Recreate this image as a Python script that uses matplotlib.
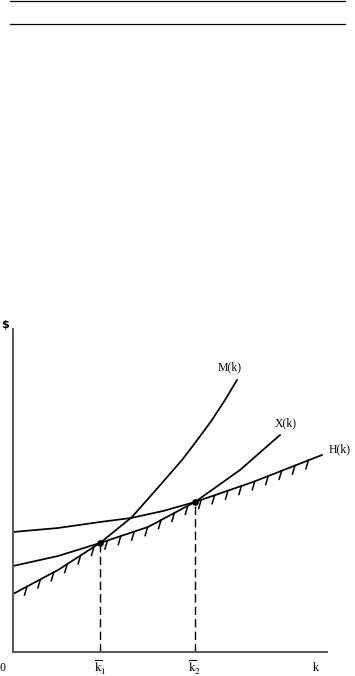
import numpy as np
import matplotlib.pyplot as plt
from matplotlib.lines import Line2D

plt.rcParams["font.family"] = ["Liberation Serif", "DejaVu Serif"]
plt.rcParams["mathtext.fontset"] = "stix"

# curves (k, $)
m_k = [0, 45, 87, 119, 149, 169, 182, 199, 212, 224]
m_v = [58, 82, 109, 135, 169, 192, 209, 232, 252, 272]
x_k = [0, 45, 87, 135, 182, 227, 267]
x_v = [86, 96, 109, 125, 150, 182, 217]
h_k = [0, 45, 87, 118, 150, 182, 240, 309]
h_v = [120, 124, 130, 134, 141, 150, 170, 197]

k_bar = [87, 182]
k_bar_labels = [r"$\overline{\mathrm{k}}_1$", r"$\overline{\mathrm{k}}_2$"]

fig = plt.figure(figsize=(3.55, 6.76), dpi=100)

# header rules at top of page
for y in [675.5 / 676, 652 / 676]:
    fig.add_artist(Line2D([10 / 355, 345 / 355], [y, y], color="black", lw=0.9))

ax = fig.add_axes([13 / 355, 24 / 676, 314 / 355, 323 / 676])
ax.set_xlim(0, 314)
ax.set_ylim(0, 323)
for s in ["top", "right"]:
    ax.spines[s].set_visible(False)
for s in ["left", "bottom"]:
    ax.spines[s].set_color("#555555")
    ax.spines[s].set_linewidth(1.4)
ax.set_xticks([])
ax.set_yticks([])

lw = 1.25
ax.plot(m_k, m_v, color="black", lw=lw)
ax.plot(x_k, x_v, color="black", lw=lw)
ax.plot(h_k, h_v, color="black", lw=lw)

# hatching below the lower envelope min(M, X, H)
tk = np.arange(14, 300, 13.4)
env = np.minimum(np.interp(tk, m_k, m_v, right=np.inf),
                 np.minimum(np.interp(tk, x_k, x_v, right=np.inf),
                            np.interp(tk, h_k, h_v)))
for t, e in zip(tk, env):
    ax.plot([t, t - 2.5], [e, e - 8.5], color="black", lw=1.1)

# equilibria and dashed drop lines
k_val = [np.interp(k, x_k, x_v) for k in k_bar]
for k, v in zip(k_bar, k_val):
    ax.plot([k, k], [0, v], color="black", lw=1.0, dashes=(6, 3))
ax.scatter(k_bar, k_val, s=14, color="black", zorder=5)

fs = 8.5
ax.text(217, 285, "M(k)", ha="center", va="center", fontsize=fs)
ax.text(273, 229, "X(k)", ha="center", va="center", fontsize=fs)
ax.text(316, 203, "H(k)", ha="left", va="center", fontsize=fs)

ax.text(-10, -16, "0", ha="center", va="center", fontsize=fs)
for k, lab in zip(k_bar, k_bar_labels):
    ax.text(k, -16, lab, ha="center", va="center", fontsize=fs + 1)
ax.text(303, -16, "k", ha="center", va="center", fontsize=fs)
ax.text(-8, 327, "$", ha="center", va="center", fontsize=8,
        family="DejaVu Sans", fontweight="bold")

fig.savefig("out.png", dpi=100)
